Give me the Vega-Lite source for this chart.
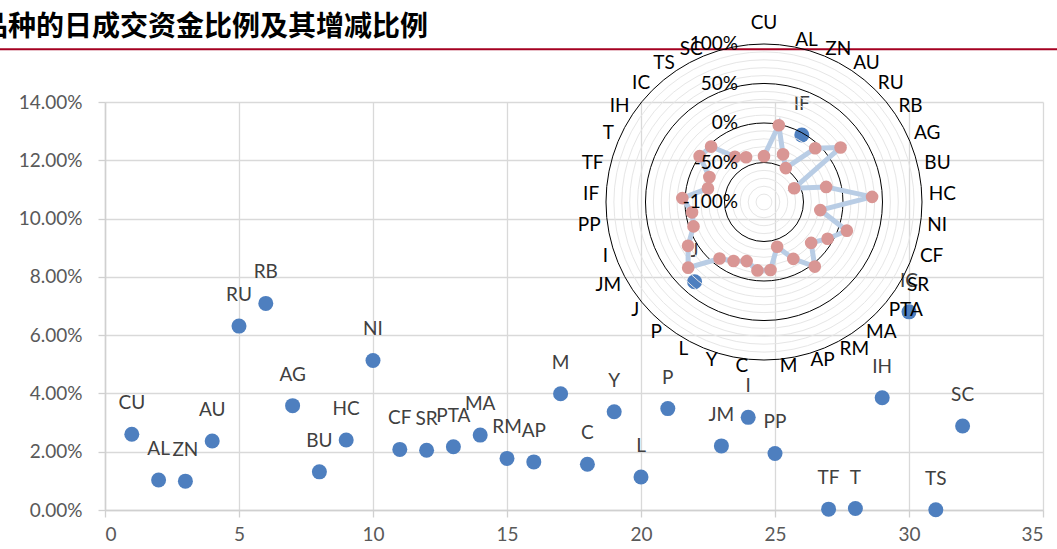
{
  "$schema": "https://vega.github.io/schema/vega-lite/v6.json",
  "width": 938,
  "height": 408,
  "autosize": {"type": "none"},
  "padding": {"left": 105, "top": 102, "right": 14, "bottom": 39},
  "background": "white",
  "title": {
    "text": "品种的日成交资金比例及其增减比例",
    "anchor": "start",
    "frame": "group",
    "offset": -28,
    "dx": -125,
    "font": "Noto Sans CJK SC",
    "fontSize": 28,
    "fontWeight": "bold",
    "color": "#000000"
  },
  "config": {"view": {"stroke": null}, "font": "Lato"},
  "datasets": {
    "main": [
      {"name": "CU", "idx": 1, "share": 0.0260, "chg": -0.42},
      {"name": "AL", "idx": 2, "share": 0.0103, "chg": -0.01},
      {"name": "ZN", "idx": 3, "share": 0.0099, "chg": -0.35},
      {"name": "AU", "idx": 4, "share": 0.0237, "chg": -0.49},
      {"name": "RU", "idx": 5, "share": 0.0631, "chg": -0.06},
      {"name": "RB", "idx": 6, "share": 0.0709, "chg": 0.19},
      {"name": "AG", "idx": 7, "share": 0.0358, "chg": -0.58},
      {"name": "BU", "idx": 8, "share": 0.0131, "chg": -0.19},
      {"name": "HC", "idx": 9, "share": 0.0240, "chg": 0.37},
      {"name": "NI", "idx": 10, "share": 0.0513, "chg": -0.28},
      {"name": "CF", "idx": 11, "share": 0.0208, "chg": 0.11},
      {"name": "SR", "idx": 12, "share": 0.0205, "chg": -0.07},
      {"name": "PTA", "idx": 13, "share": 0.0217, "chg": -0.21},
      {"name": "MA", "idx": 14, "share": 0.0257, "chg": 0.04},
      {"name": "RM", "idx": 15, "share": 0.0177, "chg": -0.19},
      {"name": "AP", "idx": 16, "share": 0.0165, "chg": -0.41},
      {"name": "M", "idx": 17, "share": 0.0399, "chg": -0.135},
      {"name": "C", "idx": 18, "share": 0.0157, "chg": -0.13},
      {"name": "Y", "idx": 19, "share": 0.0337, "chg": -0.22},
      {"name": "L", "idx": 20, "share": 0.0113, "chg": -0.16},
      {"name": "P", "idx": 21, "share": 0.0348, "chg": -0.09},
      {"name": "J", "idx": 22, "share": 0.0783, "chg": 0.27},
      {"name": "JM", "idx": 23, "share": 0.0220, "chg": 0.11},
      {"name": "I", "idx": 24, "share": 0.0318, "chg": -0.056},
      {"name": "PP", "idx": 25, "share": 0.0194, "chg": -0.08},
      {"name": "IF", "idx": 26, "share": 0.1287, "chg": 0.035},
      {"name": "TF", "idx": 27, "share": 0.0003, "chg": -0.27},
      {"name": "T", "idx": 28, "share": 0.0005, "chg": -0.24},
      {"name": "IH", "idx": 29, "share": 0.0385, "chg": 0.0},
      {"name": "IC", "idx": 30, "share": 0.0680, "chg": -0.03},
      {"name": "TS", "idx": 31, "share": 0.0001, "chg": -0.32},
      {"name": "SC", "idx": 32, "share": 0.0288, "chg": -0.39}
    ],
    "rings": [
      {"ring": -0.9}, {"ring": -0.8}, {"ring": -0.7}, {"ring": -0.6},
      {"ring": -0.4}, {"ring": -0.3}, {"ring": -0.2}, {"ring": -0.1},
      {"ring": 0.1}, {"ring": 0.2}, {"ring": 0.3}, {"ring": 0.4},
      {"ring": 0.6}, {"ring": 0.7}, {"ring": 0.8}, {"ring": 0.9},
      {"ring": -0.5}, {"ring": 0}, {"ring": 0.5}, {"ring": 1}
    ],
    "ringLabels": [
      {"ring": 1, "label": "100%"},
      {"ring": 0.5, "label": "50%"},
      {"ring": 0, "label": "0%"},
      {"ring": -0.5, "label": "-50%"},
      {"ring": -1, "label": "-100%"}
    ],
    "one": [{}]
  },
  "layer": [
    {
      "layer": [
        {
          "data": {"name": "one"},
          "mark": {"type": "rule", "color": "#a50021", "strokeWidth": 2},
          "encoding": {
            "x": {"datum": -3.92, "type": "quantitative", "scale": {"domain": [0, 35], "nice": false, "zero": false}},
            "x2": {"datum": 35.6},
            "y": {"datum": 0.1581, "type": "quantitative", "scale": {"domain": [0, 0.14], "nice": false}}
          }
        },
        {
          "data": {"name": "main"},
          "mark": {"type": "point", "filled": true, "size": 225, "color": "#4e7fbf", "opacity": 1},
          "encoding": {
            "x": {
              "field": "idx", "type": "quantitative",
              "scale": {"domain": [0, 35], "nice": false, "zero": false},
              "axis": {
                "values": [0, 5, 10, 15, 20, 25, 30, 35],
                "title": null,
                "grid": true,
                "gridColor": "#d9d9d9",
                "gridWidth": 1.3,
                "domainColor": "#d0d0d0",
                "domainWidth": 1.5,
                "tickColor": "#d0d0d0",
                "tickSize": 7,
                "tickWidth": 1.3,
                "labelFontSize": 19,
                "labelColor": "#595959",
                "labelPadding": 8,
                "labelFont": "Lato"
              }
            },
            "y": {
              "field": "share", "type": "quantitative",
              "scale": {"domain": [0, 0.14], "nice": false},
              "axis": {
                "values": [0, 0.02, 0.04, 0.06, 0.08, 0.1, 0.12, 0.14],
                "format": ".2%",
                "title": null,
                "grid": true,
                "gridColor": "#d9d9d9",
                "gridWidth": 1.3,
                "domainColor": "#d0d0d0",
                "domainWidth": 1.5,
                "tickColor": "#d0d0d0",
                "tickSize": 7,
                "tickWidth": 1.3,
                "labelFontSize": 19,
                "labelColor": "#595959",
                "labelPadding": 16,
                "labelFont": "Lato"
              }
            }
          }
        },
        {
          "data": {"name": "main"},
          "mark": {"type": "text", "dy": -31, "fontSize": 19, "color": "#404040", "baseline": "middle", "align": "center"},
          "encoding": {
            "x": {"field": "idx", "type": "quantitative"},
            "y": {"field": "share", "type": "quantitative"},
            "text": {"field": "name"}
          }
        }
      ]
    },
    {
      "layer": [
        {
          "data": {"name": "rings"},
          "transform": [{"calculate": "datum.ring + 1", "as": "rr"}],
          "mark": {"type": "point", "shape": "circle", "filled": false, "strokeWidth": 1, "opacity": 1},
          "encoding": {
            "x": {"datum": 0, "type": "quantitative", "scale": {"domain": [-8.342, 3.532], "nice": false, "zero": false}, "axis": null},
            "y": {"datum": 0, "type": "quantitative", "scale": {"domain": [-3.899, 1.266], "nice": false, "zero": false}, "axis": null},
            "size": {"field": "rr", "type": "quantitative", "scale": {"type": "pow", "exponent": 2, "domain": [0, 2], "range": [0, 99856], "zero": true, "nice": false}, "legend": null},
            "stroke": {
              "condition": {"test": "datum.ring * 2 == round(datum.ring * 2)", "value": "#000000"},
              "value": "#e6e6e6"
            }
          }
        },
        {
          "data": {"name": "main"},
          "transform": [
            {"calculate": "2 * PI * (datum.idx - 1) / 33", "as": "ang"},
            {"calculate": "(datum.chg + 1) * sin(datum.ang)", "as": "rx"},
            {"calculate": "(datum.chg + 1) * cos(datum.ang)", "as": "ry"}
          ],
          "layer": [
            {
              "mark": {"type": "line", "color": "#b9cde5", "strokeWidth": 5},
              "encoding": {
                "x": {"field": "rx", "type": "quantitative"},
                "y": {"field": "ry", "type": "quantitative"},
                "order": {"field": "idx", "type": "quantitative"}
              }
            },
            {
              "mark": {"type": "point", "filled": true, "size": 160, "color": "#d99694", "opacity": 1},
              "encoding": {
                "x": {"field": "rx", "type": "quantitative"},
                "y": {"field": "ry", "type": "quantitative"}
              }
            }
          ]
        },
        {
          "data": {"name": "main"},
          "transform": [
            {"calculate": "2 * PI * (datum.idx - 1) / 33", "as": "ang"},
            {"calculate": "2.089 * sin(datum.ang)", "as": "lx"},
            {"calculate": "2.089 * cos(datum.ang)", "as": "ly"}
          ],
          "layer": [
            {
              "transform": [{"filter": "datum.idx == 1"}],
              "mark": {"type": "text", "fontSize": 19, "color": "#000000", "align": "center", "baseline": "middle", "dy": -14},
              "encoding": {
                "x": {"field": "lx", "type": "quantitative"},
                "y": {"field": "ly", "type": "quantitative"},
                "text": {"field": "name"}
              }
            },
            {
              "transform": [{"filter": "datum.idx >= 2 && datum.idx <= 17"}],
              "mark": {"type": "text", "fontSize": 19, "color": "#000000", "align": "left", "baseline": "middle"},
              "encoding": {
                "x": {"field": "lx", "type": "quantitative"},
                "y": {"field": "ly", "type": "quantitative"},
                "text": {"field": "name"}
              }
            },
            {
              "transform": [{"filter": "datum.idx >= 18"}],
              "mark": {"type": "text", "fontSize": 19, "color": "#000000", "align": "right", "baseline": "middle"},
              "encoding": {
                "x": {"field": "lx", "type": "quantitative"},
                "y": {"field": "ly", "type": "quantitative"},
                "text": {"field": "name"}
              }
            }
          ]
        },
        {
          "data": {"name": "ringLabels"},
          "transform": [{"calculate": "datum.ring + 1", "as": "ry"}],
          "mark": {"type": "text", "fontSize": 19, "color": "#000000", "align": "right", "baseline": "middle", "dx": -26},
          "encoding": {
            "x": {"datum": 0, "type": "quantitative"},
            "y": {"field": "ry", "type": "quantitative"},
            "text": {"field": "label"}
          }
        }
      ]
    }
  ],
  "resolve": {"scale": {"x": "independent", "y": "independent"}}
}
